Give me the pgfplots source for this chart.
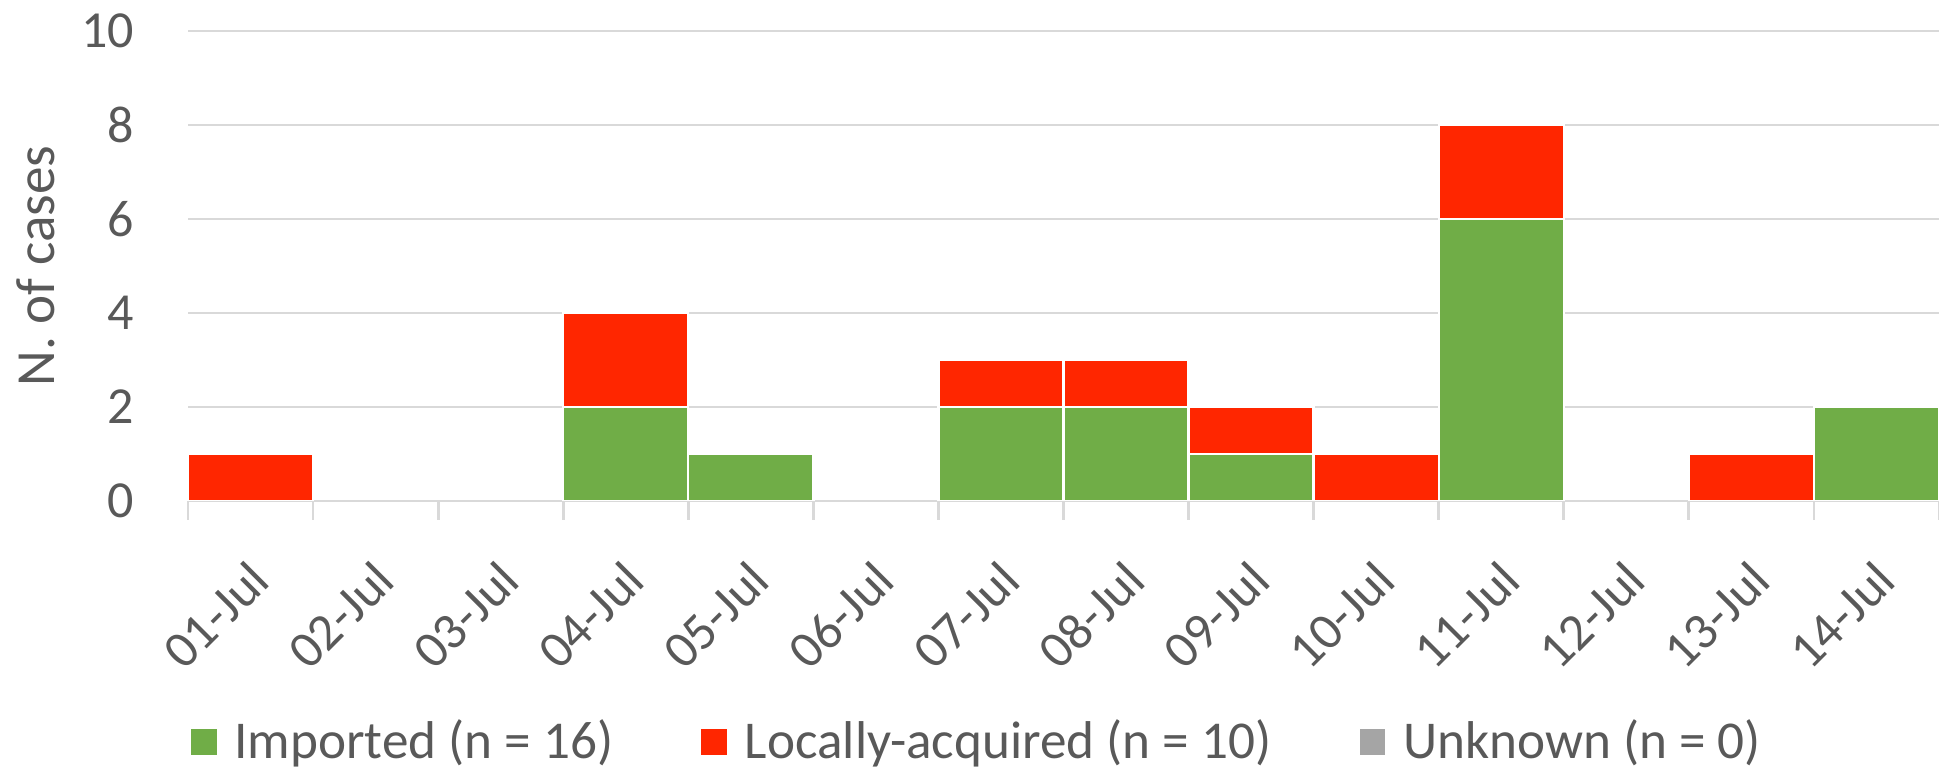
\documentclass[border=0pt]{standalone}
\usepackage{fontspec}
\setmainfont{Carlito}
\usepackage{pgfplots}
\usepackage{pgfplotstable}
\pgfplotsset{compat=1.18}

\definecolor{impgreen}{HTML}{70AD47}
\definecolor{locred}{HTML}{FF2600}
\definecolor{unkgray}{HTML}{A5A5A5}
\definecolor{txtgray}{HTML}{595959}
\definecolor{gridgray}{HTML}{D9D9D9}

% day index, imported cases, locally-acquired cases
\pgfplotstableread{
idx imported local
0  0 1
1  0 0
2  0 0
3  2 2
4  1 0
5  0 0
6  2 1
7  2 1
8  1 1
9  0 1
10 6 2
11 0 0
12 0 1
13 2 0
}\casedata

\begin{document}
\begin{tikzpicture}
\useasboundingbox (0pt,0pt) rectangle (484.75pt,-192pt);
\begin{axis}[
  at={(47pt,-125.25pt)}, anchor=south west,
  scale only axis, width=437.75pt, height=117.5pt,
  xmin=-0.5, xmax=13.5, ymin=0, ymax=10,
  ybar, bar width=1, bar shift=0pt,
  axis lines*=left,
  y axis line style={draw=none},
  x axis line style={gridgray, line width=0.7pt},
  ytick={0,2,...,10},
  ymajorgrids, grid style={gridgray, line width=0.7pt},
  ytick style={draw=none},
  xtick={0,...,13},
  xticklabels={01-Jul,02-Jul,03-Jul,04-Jul,05-Jul,06-Jul,07-Jul,08-Jul,09-Jul,10-Jul,11-Jul,12-Jul,13-Jul,14-Jul},
  major x tick style={draw=none},
  minor xtick={-0.5,0.5,...,13.5},
  minor x tick style={gridgray, line width=0.7pt},
  tick align=outside,
  major tick length=0pt, minor tick length=4.75pt,
  /pgf/number format/assume math mode=true,
  tick label style={font=\fontsize{13}{15}\selectfont, text=txtgray},
  yticklabel style={inner sep=0pt, anchor=east, xshift=-13.25pt},
  xticklabel style={yshift=-14pt, xshift=-1pt, rotate=45, anchor=north east, inner sep=0pt},
  ylabel={N. of cases},
  ylabel style={font=\fontsize{13.8}{16}\selectfont, text=txtgray, at={(axis description cs:-0.0868,0.5)}, anchor=center},
  legend columns=3,
  legend style={at={(axis description cs:0.4523,-0.5128)}, anchor=center, draw=none, fill=none,
    font=\fontsize{13.3}{15}\selectfont, text=txtgray,
    /tikz/every even column/.append style={column sep=20pt}},
  y filter/.expression={y==0 ? nan : y},
]
% red drawn to the stack total, green over its lower part
\addplot[forget plot, fill=locred, draw=white, line width=0.6pt]
  table[x=idx, y expr=\thisrow{imported}+\thisrow{local}] {\casedata};
\addplot[forget plot, fill=impgreen, draw=white, line width=0.6pt]
  table[x=idx, y=imported] {\casedata};

\addlegendimage{legend image code/.code={\fill[impgreen] (0pt,-3pt) rectangle (6pt,3pt); \path (8.5pt,0pt);}}
\addlegendentry{Imported (n = 16)}
\addlegendimage{legend image code/.code={\fill[locred] (0pt,-3pt) rectangle (6pt,3pt); \path (8.5pt,0pt);}}
\addlegendentry{Locally-acquired (n = 10)}
\addlegendimage{legend image code/.code={\fill[unkgray] (0pt,-3pt) rectangle (6pt,3pt); \path (8.5pt,0pt);}}
\addlegendentry{Unknown (n = 0)}
\end{axis}
\end{tikzpicture}
\end{document}
